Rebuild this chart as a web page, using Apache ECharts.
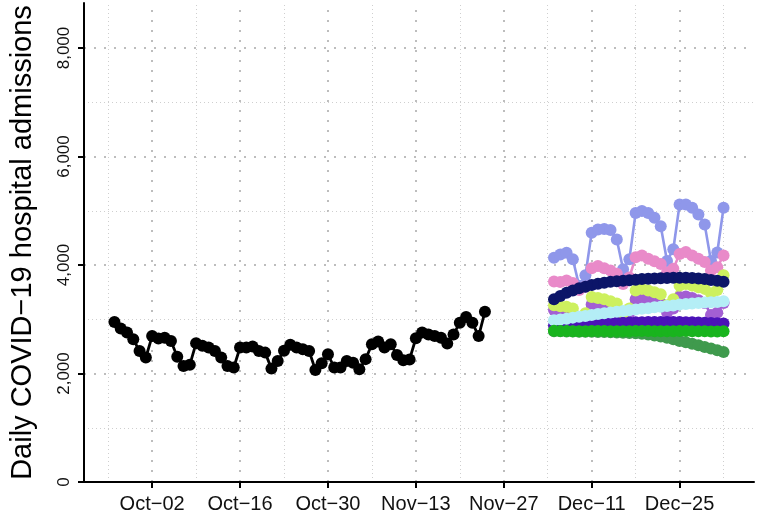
<!DOCTYPE html>
<html><head><meta charset="utf-8">
<script src="https://cdn.jsdelivr.net/npm/echarts@6/dist/echarts.min.js"></script>
<style>html,body{margin:0;padding:0;background:#fff}#c{width:765px;height:520px}</style>
</head><body><div id="c"></div>
<script>
// x values are day numbers counted from Sep 26 (day 0)
const observedStartDay = 0;   // Sep 26
const observed = [2950,2830,2755,2630,2415,2295,2690,2645,2660,2600,
  2310,2140,2160,2560,2510,2480,2415,2295,2140,2110,
  2480,2480,2500,2415,2385,2090,2230,2420,2530,2480,
  2445,2415,2065,2190,2355,2110,2110,2230,2200,2080,
  2265,2540,2590,2480,2540,2340,2245,2260,2650,2755,
  2720,2690,2660,2555,2720,2935,3040,2935,2690,3140];

const forecastStartDay = 70;  // Dec 5
const fcPeriwinkle = [4135,4195,4225,4105,3620,3810,4595,4655,4665,4645,4470,3920,4105,4960,4995,4960,4870,4715,4075,4290,5115,5115,5055,4930,4745,4075,4230,5055];
const fcPink = [3695,3685,3715,3670,3540,3600,3940,3980,3940,3900,3840,3650,3770,4145,4175,4115,4070,4020,3860,3930,4205,4240,4175,4115,4055,3900,3960,4175];
const fcPurple = [3170,3150,3140,3110,2980,3040,3270,3290,3270,3240,3200,3050,3120,3370,3385,3360,3330,3290,3130,3200,3410,3420,3390,3350,3300,3080,3120,3300];
const fcYellowGreen = [3260,3240,3230,3200,3040,3110,3410,3390,3370,3330,3290,3110,3200,3530,3560,3530,3500,3460,3260,3370,3620,3650,3620,3590,3560,3480,3540,3810];
const fcNavy = [3370,3430,3490,3530,3570,3600,3630,3655,3675,3690,3700,3710,3720,3730,3740,3745,3750,3755,3760,3765,3765,3765,3760,3750,3740,3725,3710,3690];
const fcIndigo = [2880,2885,2890,2895,2900,2905,2915,2920,2925,2930,2935,2935,2940,2945,2945,2950,2950,2950,2950,2950,2950,2945,2945,2940,2935,2930,2925,2920];
const fcCyan = [2980,2995,3010,3030,3045,3060,3080,3095,3110,3125,3140,3150,3165,3180,3195,3205,3220,3230,3245,3255,3270,3280,3290,3300,3310,3315,3320,3330];
const fcDarkGreen = [2780,2780,2775,2775,2770,2770,2770,2765,2765,2760,2755,2750,2745,2740,2735,2720,2700,2680,2660,2630,2600,2575,2550,2520,2490,2460,2430,2395];
const fcGreen = [2790,2785,2785,2780,2780,2780,2785,2785,2785,2780,2780,2780,2780,2785,2785,2785,2780,2780,2780,2780,2785,2785,2780,2780,2780,2775,2775,2780];

const xTickDays = [6,20,34,48,62,76,90];
const xTickLabels = ['Oct\u221202','Oct\u221216','Oct\u221230','Nov\u221213','Nov\u221227','Dec\u221211','Dec\u221225'];
const xMinorDays = [-1,13,27,41,55,69,83,97];
const yTicks = [0,2000,4000,6000,8000];
const yMinor = [1000,3000,5000,7000];
const yTitle = 'Daily COVID\u221219 hospital admissions';

const FONT = 'Liberation Sans, Arial, Helvetica, sans-serif';
function toPairs(arr, start){ return arr.map((v,i)=>[start+i, v]); }
function fmt(v){ return String(v).replace(/\B(?=(\d{3})+(?!\d))/g, ','); }

const majorStyle = {color:'#bdbdbd', width:2, type:[2,8]};
const minorStyle = {color:'#cfcfcf', width:1, type:[1,3]};
const gridLines = [];
xTickDays.forEach(d=>gridLines.push({xAxis:d, lineStyle:majorStyle}));
xMinorDays.forEach(d=>gridLines.push({xAxis:d, lineStyle:minorStyle}));
yTicks.forEach(v=>{ if(v>0) gridLines.push({yAxis:v, lineStyle:majorStyle}); });
yMinor.forEach(v=>gridLines.push({yAxis:v, lineStyle:minorStyle}));

function fcSeries(name, arr, color){
  return {name, type:'line', z:3, data: toPairs(arr, forecastStartDay), symbol:'circle', symbolSize:12,
    itemStyle:{color, borderWidth:0}, lineStyle:{color, width:2.6}, silent:true};
}

const option = {
  animation:false,
  grid:{left:83, right:11, top:3, bottom:38},
  xAxis:{type:'value', min:-4.85, max:101.85,
    axisLine:{show:true, onZero:false, lineStyle:{color:'#000', width:2}},
    axisTick:{show:true, customValues:xTickDays, length:6, lineStyle:{color:'#000', width:2}},
    axisLabel:{customValues:xTickDays, margin:12, color:'#111', fontSize:20, fontFamily:FONT,
      formatter:(v)=>{const i=xTickDays.indexOf(Math.round(v)); return i>=0?xTickLabels[i]:'';}},
    splitLine:{show:false}},
  yAxis:{type:'value', min:0, max:8830,
    name:yTitle, nameLocation:'middle', nameGap:47, nameRotate:90,
    nameTextStyle:{fontSize:29, color:'#000', fontFamily:FONT},
    axisLine:{show:true, onZero:false, lineStyle:{color:'#000', width:2}},
    axisTick:{show:true, customValues:yTicks, length:6, lineStyle:{color:'#000', width:2}},
    axisLabel:{customValues:yTicks, rotate:90, margin:11, color:'#111', fontSize:17, fontFamily:FONT,
      formatter:(v)=>fmt(v)},
    splitLine:{show:false}},
  series:[
    {type:'line', data:[], silent:true, z:0,
      markLine:{z:0, zlevel:0, silent:true, symbol:['none','none'], label:{show:false}, animation:false, data:gridLines}},
    {name:'observed', type:'line', z:3, data:toPairs(observed, observedStartDay), symbol:'circle', symbolSize:12,
      itemStyle:{color:'#000', borderWidth:0}, lineStyle:{color:'#000', width:2.8}, silent:true},
    fcSeries('periwinkle', fcPeriwinkle, '#8f97ea'),
    fcSeries('pink', fcPink, '#e98ac9'),
    fcSeries('purple', fcPurple, '#a35fd3'),
    fcSeries('yellowgreen', fcYellowGreen, '#cdf05e'),
    fcSeries('navy', fcNavy, '#0c1568'),
    fcSeries('indigo', fcIndigo, '#4b12b8'),
    fcSeries('cyan', fcCyan, '#b4eef6'),
    fcSeries('darkgreen', fcDarkGreen, '#3f9a4d'),
    fcSeries('green', fcGreen, '#19b41e')
  ]
};
const chart = echarts.init(document.getElementById('c'), null, {renderer:'canvas'});
chart.setOption(option);
</script></body></html>
